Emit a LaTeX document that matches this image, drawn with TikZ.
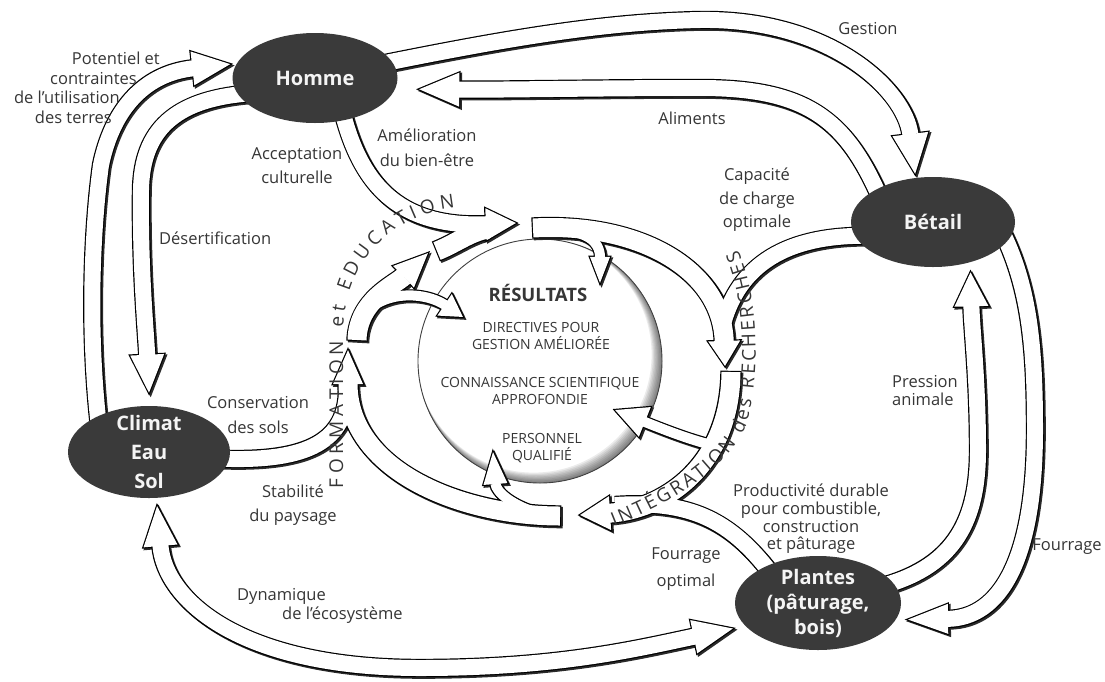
\documentclass[tikz,border=0pt]{standalone}
\usepackage{fontspec}
\setmainfont{Open Sans}
\usetikzlibrary{shapes.geometric, decorations.markings, decorations.text}

\definecolor{labelc}{HTML}{363636}
\definecolor{hubfill}{HTML}{3A3A3A}
\definecolor{hubtext}{HTML}{F4F4F4}
\definecolor{flowshade}{HTML}{2A2A2A}

\pgfdeclarelayer{bands}
\pgfsetlayers{bands,main}

% hollow band arrows, drawn in three passes (shadow, outline, white body)
\newif\ifflowhead
\newif\ifflowtail
\def\flowlw{1.2}
\def\flowpass{0}

\tikzset{
  fbw/.store in=\fbw, fhl/.store in=\fhl, fhw/.store in=\fhw,
  nohead/.code={\flowheadfalse},
  twoheads/.code={\flowtailtrue},
  innode/.code={\def\fext{8}},
  flowouter/.style={fbw=16, fhl=38, fhw=17},
  flowring/.style={fbw=19, fhl=30, fhw=16},
  flowtwig/.style={fbw=10, fhl=26, fhw=12},
  hub/.style={ellipse, fill=hubfill, text=hubtext, inner sep=0pt, align=center,
              font=\fontsize{20}{26}\selectfont\bfseries},
  lbl/.style={text=labelc, inner sep=0pt, align=center,
              font=\fontsize{16.5}{19}\selectfont},
  core/.style={text=labelc, inner sep=0pt, align=center,
              font=\fontsize{14}{17.5}\selectfont},
}

% #1: path, #2: options for the head triangle
\newcommand\flowheads[2]{%
  \ifflowhead
    \path[decorate, decoration={markings, mark=at position -0.1pt with
      {\path[#2] (0,0) -- (-\fhl,\fhw) -- (-\fhl,-\fhw) -- cycle;}}] #1;%
  \fi
  \ifflowtail
    \path[decorate, decoration={markings, mark=at position 0.1pt with
      {\path[#2] (0,0) -- (\fhl,\fhw) -- (\fhl,-\fhw) -- cycle;}}] #1;%
  \fi}

\newcommand\flow[2][]{%
  \begingroup
  \flowheadtrue\flowtailfalse\def\fext{0}%
  \tikzset{flowouter,#1}%
  \ifflowhead\edef\fendb{\fhl}\edef\fendw{\fhl-0.5}\else\def\fendb{0}\def\fendw{0}\fi
  \ifflowtail\edef\fstartb{\fhl}\edef\fstartw{\fhl-0.5}%
  \else\edef\fstartb{-\fext-\flowlw}\edef\fstartw{-\fext}\fi
  \ifcase\flowpass\relax
  \or
    \begin{scope}[transform canvas={xshift=1.6pt, yshift=-1.6pt}]
      \draw[flowshade, line width={(\fbw+2*\flowlw)*1pt},
            shorten >={(\fendb)*1pt}, shorten <={(\fstartb)*1pt}] #2;
      \flowheads{#2}{fill=flowshade, draw=flowshade, line width=2.4pt, line join=miter}%
    \end{scope}
  \or
    \draw[black, line width={(\fbw+2*\flowlw)*1pt},
          shorten >={(\fendb)*1pt}, shorten <={(\fstartb)*1pt}] #2;
    \flowheads{#2}{fill=black, draw=black, line width=2.4pt, line join=miter}%
  \or
    \draw[white, line width={\fbw*1pt},
          shorten >={(\fendw)*1pt}, shorten <={(\fstartw)*1pt}] #2;
    \flowheads{#2}{fill=white}%
  \fi
  \endgroup}

\newcommand\allflows{%
  % Climat -> Homme
  \flow[innode]{(climat.145) .. controls (88,330) and (92,230) .. (101,165)
        .. controls (112,112) and (142,74) .. ([xshift=-6pt]homme.170)}%
  % Homme -> Climat
  \flow[innode]{(homme.192) .. controls (175,100) and (142,130) .. (141,190)
        .. controls (140,270) and (146,330) .. ([yshift=13pt]climat.north)}%
  % Homme -> Betail
  \flow[innode, fhl=40, fhw=18]{(homme.12) .. controls (500,40) and (600,22) .. (700,20)
        .. controls (830,18) and (905,90) .. ([yshift=4pt]betail.112)}%
  % Betail -> Homme
  \flow[innode, fhl=40]{(betail.150) .. controls (845,118) and (805,88) .. (700,88)
        .. controls (600,88) and (500,90) .. ([xshift=24pt]homme.-8)}%
  % Betail -> Plantes
  \flow[innode, fhl=40, fhw=15]{(betail.-15) .. controls (1030,290) and (1035,350) .. (1035,430)
        .. controls (1035,560) and (1000,618) .. ([xshift=12pt]plantes.-12)}%
  % Plantes -> Betail
  \flow[innode, fhl=34, fhw=17]{(plantes.15) .. controls (955,565) and (978,520) .. (978,450)
        .. controls (978,380) and (972,330) .. ([yshift=-10pt]betail.-47)}%
  % Climat <-> Plantes
  \flow[twoheads, fhl=40, fhw=17]{([yshift=-8pt]climat.-80) .. controls (165,600) and (240,668) .. (420,668)
        .. controls (560,668) and (640,648) .. ([xshift=-15pt]plantes.200)}%
  % Homme -> results
  \flow[innode, flowring, fbw=16]{(homme.-55) .. controls (360,180) and (395,228) .. (tE)}%
  % ring around the results
  \flow[flowring, nohead]{(r3s) .. controls (455,244) and (470,232) .. (r3e)}%
  \flow[flowring, fhl=34, fhw=15]{(r2s) .. controls (358,300) and (395,285) .. (r2t)}%
  \flow[flowtwig, fhl=22, fhw=13]{(r2b) .. controls (400,290) and (430,295) .. (r2bt)}%
  \flow[flowring, fhl=25, fhw=16]{(r4s) .. controls (640,222) and (722,270) .. (r4t)}%
  \flow[flowtwig, fhl=26, fhw=10]{(r4b) .. controls (585,232) and (600,240) .. (r4bt)}%
  \flow[innode, nohead]{(betail.190) .. controls (790,236) and (738,262) .. (r4m)}%
  \flow[flowring, fhl=30, fhw=17]{(r5s) .. controls (730,470) and (660,510) .. (r5t)}%
  \flow[flowtwig, fhl=32, fhw=16]{(r5b) .. controls (690,440) and (660,428) .. (r5bt)}%
  \flow[innode, nohead]{(plantes.145) .. controls (730,520) and (690,500) .. (r5m)}%
  \flow[flowring, fhl=34, fhw=15]{(r1s) .. controls (460,516) and (348,470) .. (r1t)}%
  \flow[flowtwig, fhl=32, fhw=12]{(r1b) .. controls (512,505) and (496,492) .. (r1bt)}%
  \flow[innode, nohead]{(climat.-5) .. controls (310,462) and (346,440) .. (r1m)}%
}

\begin{document}
\begin{tikzpicture}[x=1pt, y=-1pt]
\useasboundingbox (0,0) rectangle (1105,681);

% main actors
\node[hub, minimum width=165pt, minimum height=90pt] (homme) at (315,78) {Homme};
\node[hub, minimum width=164pt, minimum height=90pt] (betail) at (933,222) {Bétail};
\node[hub, minimum width=162pt, minimum height=92pt, inner ysep=-13pt,
      font=\fontsize{20}{29}\selectfont\bfseries] (climat) at (149,452) {Climat\\Eau\\Sol};
\node[hub, minimum width=166pt, minimum height=94pt, inner ysep=-10pt,
      font=\fontsize{20}{25}\selectfont\bfseries] (plantes) at (818,603) {Plantes\\(pâturage,\\bois)};

% ends of the ring arrows
\coordinate (resc) at (540,361);
\coordinate (tE) at (516,223);
\coordinate (r3s) at (437,251);
\coordinate (r3e) at (488,229);
\coordinate (r2s) at (357,340);
\coordinate (r2t) at (428,253);
\coordinate (r2b) at (376,304);
\coordinate (r2bt) at (463,317);
\coordinate (r4s) at (533,228);
\coordinate (r4t) at (725,366);
\coordinate (r4b) at (560,230);
\coordinate (r4bt) at (600,283);
\coordinate (r4m) at (722,328);
\coordinate (r5s) at (731,372);
\coordinate (r5t) at (580,515);
\coordinate (r5b) at (712,445);
\coordinate (r5bt) at (615,410);
\coordinate (r5m) at (615,505);
\coordinate (r1s) at (560,516);
\coordinate (r1t) at (348,350);
\coordinate (r1b) at (535,512);
\coordinate (r1bt) at (493,452);
\coordinate (r1m) at (347,390);

% labels
\node[lbl, align=right, anchor=east, font=\fontsize{16.5}{19.5}\selectfont] (potentiel) at (160,88)
  {Potentiel et\\contraintes\kern23pt\\de l’utilisation\kern40pt\\des terres\kern48pt};
\node[lbl, anchor=west] (desert) at (159,238) {Désertification};
\node[lbl] (accept) at (297,166) {Acceptation\\[5pt]culturelle};
\node[lbl] (amelio) at (427,148) {Amélioration\\[6pt]du bien-être};
\node[lbl] (gestion) at (868,29) {Gestion};
\node[lbl] (aliments) at (692,118) {Aliments};
\node[lbl] (capac) at (757,200) {Capacité\\[5pt]de charge\\[4pt]optimale};
\node[lbl, align=left, anchor=west] (pression) at (892,391) {Pression\\[-1pt]animale};
\node[lbl] (fourrage) at (1067,547) {Fourrage};
\node[lbl, font=\fontsize{16.5}{17.7}\selectfont] (product) at (811,519)
  {Productivité durable\\pour combustible,\\construction\\et pâturage};
\node[lbl] (fouropt) at (686,569) {Fourrage\\[8pt]optimal};
\node[lbl] (conserv) at (258,415) {Conservation\\[6pt]des sols};
\node[lbl] (stabil) at (293,505) {Stabilité\\[5pt]du paysage};
\node[lbl, align=left, anchor=west] (dynam) at (237,606) {Dynamique\\\kern45pt de l’écosystème};

% results
\node[core, font=\fontsize{18.5}{20}\selectfont\bfseries] (resultats) at (538,293) {RÉSULTATS};
\node[core] (directives) at (541,336) {DIRECTIVES POUR\\GESTION AMÉLIORÉE};
\node[core] (connais) at (540,391) {CONNAISSANCE SCIENTIFIQUE\\APPROFONDIE};
\node[core] (personnel) at (542,448) {PERSONNEL\\QUALIFIÉ};

% lettering along the ring
\path[decorate, decoration={text along path, text color=labelc, text align=fit to path,
   text={|\fontsize{19}{19}\selectfont|FORMATION et EDUCATION}}]
   (343,488) -- (343,335) .. controls (343,262) and (392,214) .. (455,208);
\path[decorate, decoration={text along path, text color=labelc, text align=fit to path,
   text={|\fontsize{19}{19}\selectfont|INTÉGRATION des RECHERCHES}}]
   (614,526) .. controls (680,500) and (728,466) .. (746,426)
   .. controls (760,380) and (760,300) .. (738,250);

\begin{pgfonlayer}{bands}
  \fill[white] (0,0) rectangle (1105,681);
  % shaded results disc
  \begin{scope}
    \clip (resc) circle[radius=122];
    \fill[white] (resc) circle[radius=122];
    \foreach \k in {1,...,8}{
      \fill[black, opacity=0.08, even odd rule]
        (resc) circle[radius=160]
        ([shift={(-\k*0.8,-\k*0.8)}]resc) circle[radius={122-\k*0.5}];
    }
  \end{scope}
  \draw[line width=0.9pt, black!75] (resc) circle[radius=122];
  \def\flowpass{1}\allflows
  \def\flowpass{2}\allflows
  \def\flowpass{3}\allflows
\end{pgfonlayer}
\end{tikzpicture}
\end{document}
